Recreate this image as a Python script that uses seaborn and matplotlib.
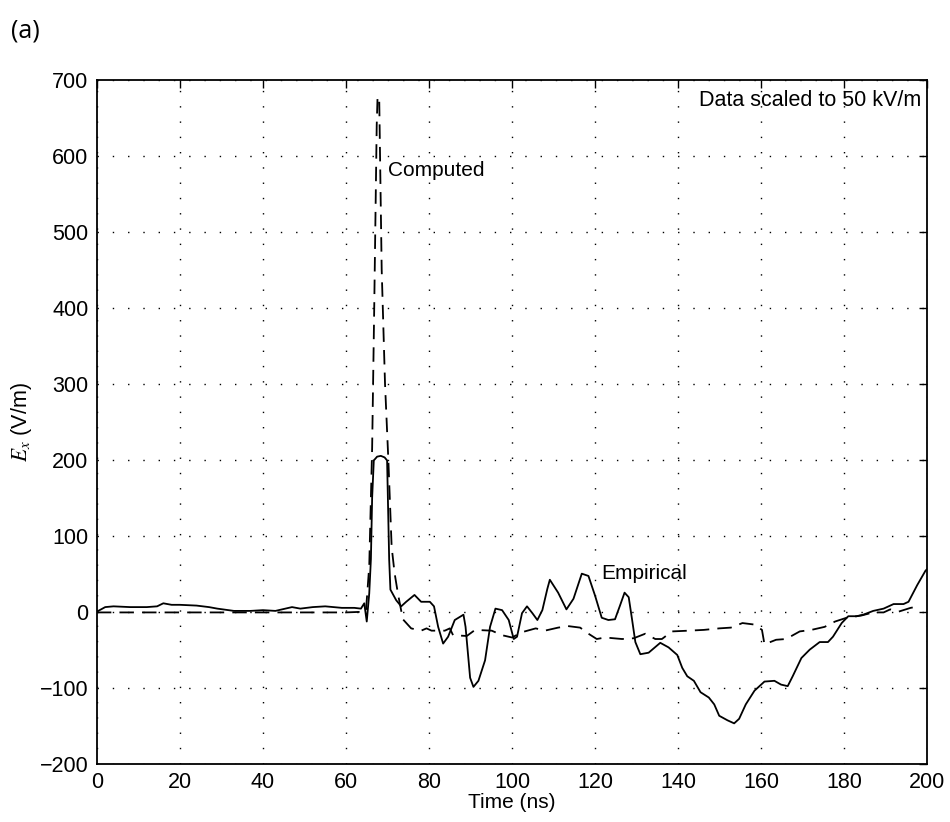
import matplotlib
matplotlib.use("Agg")
import matplotlib.pyplot as plt
import seaborn as sns
import pandas as pd

# Empirical field record (ns, V/m)
emp_t = [0, 1, 2, 4, 8, 12, 14.5, 16, 18, 20, 24, 27, 29, 33, 37, 40, 43, 47, 49, 52,
         55, 59, 62, 63.6, 64.4, 65.0, 65.6, 66.0, 66.3, 66.7, 67.5, 68.4, 69.3, 69.9,
         70.4, 70.7, 72.1, 73.3, 74.5, 76.5, 78.1, 80.2, 81.2, 82.2, 83.4, 84.6, 86.2,
         88.3, 88.8, 89.9, 90.7, 91.9, 93.5, 94.7, 96.0, 97.6, 99.2, 100.4, 101.2, 102.4,
         103.6, 104.9, 106.1, 107.3, 108.5, 109.1, 111.1, 113.1, 114.8, 116.8, 118.4,
         120.0, 121.6, 123.2, 124.8, 126.0, 127.1, 128.1, 128.9, 129.7, 130.9, 132.9,
         135.7, 137.7, 139.8, 141.0, 142.2, 143.8, 145.4, 147.4, 148.7, 149.9, 151.9,
         153.5, 154.7, 156.3, 158.4, 160.8, 163.2, 164.8, 166.4, 167.6, 169.7, 171.7,
         174.1, 176.1, 177.3, 179.4, 181.0, 183.0, 184.6, 187.0, 189.5, 191.9, 194.3,
         195.5, 197.6, 199.6, 200.0]
emp_v = [0, 3, 6, 7, 6, 6, 7, 11, 9, 9, 8, 6, 4, 1, 1, 2, 1, 6, 4, 6,
         7, 5, 5, 4, 11, -13, 24, 69, 150, 199, 204, 205, 203, 199,
         69, 29, 15, 7, 13, 22, 13, 13, 7, -20, -42, -33, -11,
         -4, -20, -87, -99, -91, -64, -20, 4, 2, -11, -36, -33, -2,
         7, -2, -11, 2, 30, 42, 25, 3, 17, 50, 47,
         21, -8, -11, -10, 8, 25, 19, -10, -40, -56, -54,
         -41, -47, -57, -74, -85, -91, -106, -113, -122, -137, -143,
         -147, -141, -122, -104, -92, -91, -96, -98, -85, -61, -50,
         -40, -40, -33, -15, -6, -6, -4, 1, 4, 10, 10,
         13, 35, 54, 56]

# Computed field (ns, V/m)
comp_t = [0, 10, 20, 30, 40, 50, 60, 64.8, 65.6, 66.3, 66.8, 67.4, 67.6, 68.0, 68.6,
          69.4, 70.2, 71.0, 71.7, 72.5, 73.7, 75.7, 78.1, 79.4, 80.6, 83.8, 85.0, 85.8,
          89.1, 91.1, 95.1, 97.6, 100.0, 102.4, 105.7, 107.9, 111.1, 113.5, 116.4, 118.4,
          120.4, 122.4, 126.5, 129.3, 132.1, 134.5, 136.1, 138.5, 142.6, 146.2, 149.9,
          152.7, 155.5, 158.4, 160.2, 160.8, 163.6, 166.0, 169.3, 172.1, 175.3, 177.8,
          180.6, 184.2, 187.0, 189.5, 191.1, 193.1, 196.0, 197.0]
comp_v = [-1, -1, -1, -1, -1, -1, -1, 0, 60, 216, 400, 640, 677, 677, 450,
          300, 200, 85, 51, 24, -10, -22, -25, -22, -25, -25, -22, -31,
          -32, -24, -25, -31, -34, -27, -22, -25, -21, -19, -21, -29,
          -36, -34, -36, -35, -29, -36, -36, -26, -25, -24, -22,
          -21, -15, -17, -24, -43, -37, -36, -26, -24, -20, -13,
          -8, -5, -1, -1, 3, 0, 5, 6]

x_ticks = list(range(0, 201, 20))
y_ticks = list(range(-200, 701, 100))

sns.set_style("white")
plt.rcParams["font.family"] = ["Liberation Sans", "DejaVu Sans"]
plt.rcParams["mathtext.fontset"] = "stix"
plt.rcParams["text.color"] = "black"
plt.rcParams["axes.labelcolor"] = "black"

emp_df = pd.DataFrame({"t": emp_t, "v": emp_v})
comp_df = pd.DataFrame({"t": comp_t, "v": comp_v})

fig = plt.figure(figsize=(9.5, 8.22), dpi=100)
ax = fig.add_axes([0.102, 0.071, 0.874, 0.832])

sns.lineplot(data=emp_df, x="t", y="v", ax=ax, color="black", linewidth=1.3,
             sort=False, estimator=None)
sns.lineplot(data=comp_df, x="t", y="v", ax=ax, color="black", linewidth=1.3,
             sort=False, estimator=None, linestyle=(0, (8, 4.5)))

ax.set_xlim(0, 200)
ax.set_ylim(-200, 700)
ax.set_xticks(x_ticks)
ax.set_yticks(y_ticks)
ax.set_xticklabels([str(v) for v in x_ticks])
ax.set_yticklabels([str(v).replace("-", "\u2212") for v in y_ticks])
ax.grid(True, color="black", linestyle=(0, (1, 10)), linewidth=1.0)
ax.tick_params(direction="in", length=6, width=1, top=True, right=True,
               labelsize=15.5, colors="black", labelcolor="black", pad=6)
for s in ax.spines.values():
    s.set_color("black")
    s.set_linewidth(1.3)

ax.set_xlabel("Time (ns)", fontsize=15, labelpad=0, color="black")
ax.set_ylabel(r"$E_x$ (V/m)", fontsize=15.5, labelpad=4, color="black")

ax.text(70.2, 580, "Computed", fontsize=15, va="center", ha="left", color="black")
ax.text(121.5, 50, "Empirical", fontsize=15, va="center", ha="left", color="black")
ax.text(198.5, 673, "Data scaled to 50 kV/m", fontsize=15.5, va="center", ha="right",
        color="black")

fig.text(0.012, 0.962, "(a)", fontsize=18, family=["Open Sans", "DejaVu Sans"],
         ha="left", va="center", color="black")

fig.savefig("out.png", dpi=100, facecolor="white")
